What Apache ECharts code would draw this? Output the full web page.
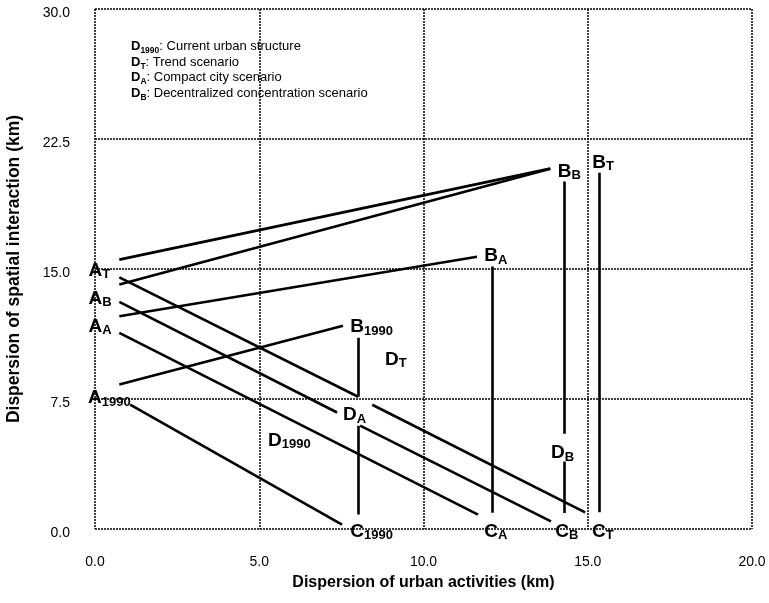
<!DOCTYPE html>
<html>
<head>
<meta charset="utf-8">
<script src="https://cdn.jsdelivr.net/npm/echarts@6/dist/echarts.min.js"></script>
<style>
  html, body { margin: 0; padding: 0; background: #fff; }
  #app { width: 769px; height: 603px; }
</style>
</head>
<body>
<div id="app"></div>
<script>
// segments [x1, y1, x2, y2] in km, per scenario
const segments1990 = [
  [0.74, 8.33, 7.55, 11.73],
  [8.01, 11.03, 8.01, 7.63],
  [8.01, 5.96, 8.01, 0.83],
  [1.07, 7.17, 7.52, 0.25],
];
const segmentsTrend = [
  [0.74, 15.54, 13.86, 20.79],
  [0.74, 14.52, 8.01, 7.63],
  [8.44, 7.17, 14.92, 0.96],
  [15.36, 20.56, 15.36, 0.96],
];
const segmentsCompact = [
  [0.74, 12.27, 11.63, 15.71],
  [0.74, 11.31, 11.66, 0.83],
  [12.08, 15.15, 12.08, 0.94],
];
const segmentsDecentral = [
  [0.74, 14.1, 13.86, 20.79],
  [0.74, 13.1, 7.37, 6.72],
  [8.07, 5.96, 13.88, 0.44],
  [14.29, 20.05, 14.29, 5.5],
  [14.29, 3.9, 14.29, 0.92],
];

// point labels
const labelMain = ['A', 'A', 'A', 'A', 'B', 'B', 'B', 'B', 'C', 'C', 'C', 'C', 'D', 'D', 'D', 'D'];
const labelSub = ['T', 'B', 'A', '1990', '1990', 'A', 'B', 'T', '1990', 'A', 'B', 'T', '1990', 'T', 'A', 'B'];
const labelX = [-0.2, -0.2, -0.2, -0.21, 7.77, 11.85, 14.09, 15.14, 7.77, 11.85, 14.01, 15.13, 5.27, 8.83, 7.55, 13.88];
const labelY = [15.06, 13.42, 11.83, 7.69, 11.79, 15.89, 20.76, 21.27, 0, 0, 0, 0, 5.24, 9.91, 6.71, 4.52];

// legend lines
const legendKeys = ['1990', 'T', 'A', 'B'];
const legendTexts = ['Current urban structure', 'Trend scenario', 'Compact city scenario', 'Decentralized concentration scenario'];

const xTicks = { min: 0, max: 20, interval: 5 };
const yTicks = { min: 0, max: 30, interval: 7.5 };

const lineData = []
  .concat(segments1990, segmentsTrend, segmentsCompact, segmentsDecentral)
  .map((s) => ({ coords: [[s[0], s[1]], [s[2], s[3]]] }));

const pointData = labelMain.map((m, i) => ({
  name: '{m|' + m + '}{s|' + labelSub[i] + '}',
  value: [labelX[i], labelY[i]],
}));

const legendText = legendKeys
  .map((k, i) => '{d|D}{s|' + k + '}{t|: ' + legendTexts[i] + '}')
  .join('\n');

const fontFamily = '"Liberation Sans", Arial, sans-serif';
const gridLine = { show: true, lineStyle: { color: '#000', type: [2, 1], width: 1.5 } };

const chart = echarts.init(document.getElementById('app'));

const option = {
  backgroundColor: '#fff',
  animation: false,
  textStyle: { fontFamily: fontFamily },
  title: {
    left: 131,
    top: 40,
    padding: 0,
    text: legendText,
    textStyle: {
      fontSize: 13,
      fontWeight: 'normal',
      lineHeight: 15.5,
      color: '#000',
      rich: {
        d: { fontSize: 13, fontWeight: 'bold', lineHeight: 15.5, verticalAlign: 'top', color: '#000' },
        s: { fontSize: 8.5, fontWeight: 'bold', lineHeight: 8.5, padding: [6.5, 0, 0, 0], verticalAlign: 'top', color: '#000' },
        t: { fontSize: 13, fontWeight: 'normal', lineHeight: 15.5, verticalAlign: 'top', color: '#000' },
      },
    },
  },
  grid: { left: 95, right: 17, top: 9, bottom: 74, outerBoundsMode: 'none', containLabel: false },
  xAxis: {
    type: 'value',
    min: xTicks.min,
    max: xTicks.max,
    interval: xTicks.interval,
    name: 'Dispersion of urban activities (km)',
    nameLocation: 'middle',
    nameGap: 46,
    nameTextStyle: { fontSize: 16, fontWeight: 'bold', color: '#000' },
    axisLine: { show: false },
    axisTick: { show: false },
    axisLabel: { fontSize: 14, color: '#000', margin: 26, formatter: (v) => v.toFixed(1) },
    splitLine: gridLine,
  },
  yAxis: {
    type: 'value',
    min: yTicks.min,
    max: yTicks.max,
    interval: yTicks.interval,
    name: 'Dispersion of spatial interaction (km)',
    nameLocation: 'middle',
    nameGap: 72,
    nameTextStyle: { fontSize: 17.5, fontWeight: 'bold', color: '#000' },
    axisLine: { show: false },
    axisTick: { show: false },
    axisLabel: { fontSize: 14, color: '#000', margin: 25, verticalAlign: 'top', lineHeight: 8, formatter: (v) => v.toFixed(1) },
    splitLine: gridLine,
  },
  series: [
    {
      type: 'lines',
      coordinateSystem: 'cartesian2d',
      data: lineData,
      lineStyle: { color: '#000', width: 2.6, opacity: 1, curveness: 0 },
      silent: true,
    },
    {
      type: 'scatter',
      data: pointData,
      symbolSize: 0,
      clip: false,
      silent: true,
      itemStyle: { opacity: 1 },
      label: {
        show: true,
        position: 'inside',
        align: 'left',
        verticalAlign: 'middle',
        offset: [0, 3],
        color: '#000',
        opacity: 1,
        formatter: '{b}',
        rich: {
          m: { fontSize: 19, fontWeight: 'bold', lineHeight: 20, verticalAlign: 'top', color: '#000' },
          s: { fontSize: 13, fontWeight: 'bold', lineHeight: 13, padding: [7, 0, 0, 0], verticalAlign: 'top', color: '#000' },
        },
      },
    },
  ],
};
chart.setOption(option);
</script>
</body>
</html>
